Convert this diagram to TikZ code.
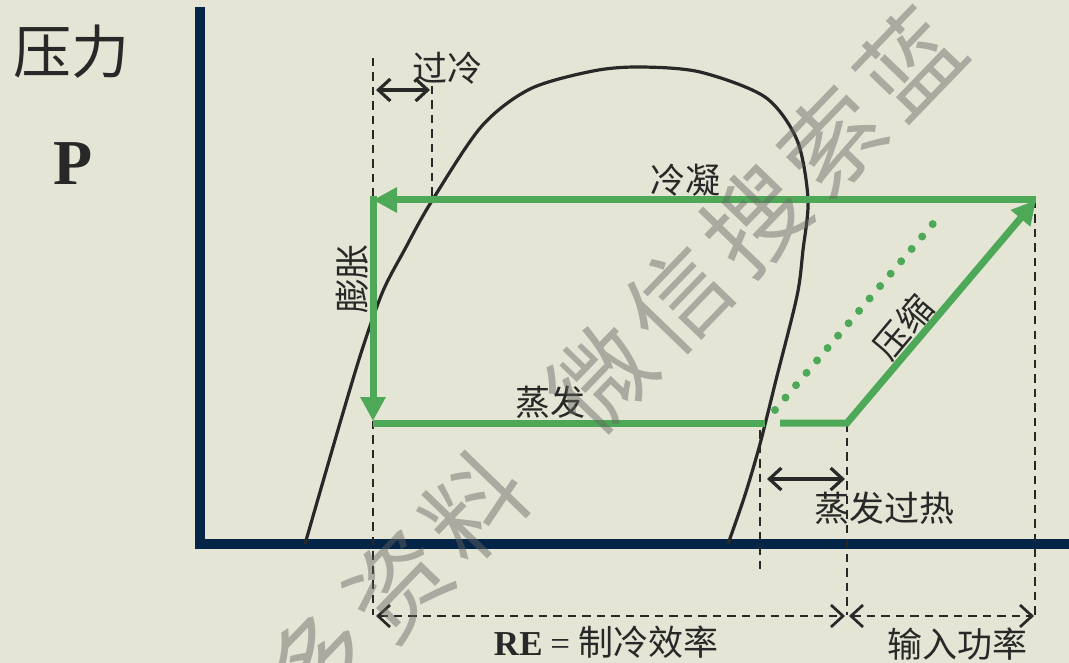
\documentclass[tikz,border=0pt]{standalone}
\usepackage{fontspec}
\setmainfont{Liberation Serif}
\newfontfamily\cjk{Noto Sans CJK SC}
\usetikzlibrary{arrows.meta}
\definecolor{bg}{RGB}{229,229,214}
\definecolor{navy}{RGB}{4,36,72}
\definecolor{grn}{RGB}{77,168,88}
\definecolor{ink}{RGB}{40,40,40}
\definecolor{wm}{RGB}{100,100,95}
\begin{document}
\begin{tikzpicture}[x=1pt,y=-1pt,
  axisline/.style={draw=navy,line width=10pt,line join=miter},
  cyc/.style={draw=grn,line width=7pt},
  cyctip/.style={-{Triangle[length=24pt,width=24pt]}},
  satline/.style={draw=ink,line width=3.2pt},
  guide/.style={draw=ink,line width=2.7pt,dash pattern=on 8.5pt off 6pt},
  barbs/.style={{Straight Barb[length=12pt,width=22pt]}-{Straight Barb[length=12pt,width=22pt]}},
  dimsolid/.style={draw=ink,line width=3.2pt,barbs},
  dimdash/.style={guide,barbs},
  lab/.style={text=ink,inner sep=0pt,font=\cjk\fontsize{35}{35}\selectfont},
  wmk/.style={text=wm,opacity=0.45,inner sep=0pt,rotate=46,font=\cjk\fontsize{100}{100}\selectfont}]
\useasboundingbox (0,0) rectangle (1069,663);
\fill[bg] (0,0) rectangle (1069,663);

% axes
\coordinate (ytop) at (200,7);
\coordinate (orig) at (200,544);
\coordinate (xend) at (1069,544);
\draw[axisline] (ytop) -- (orig) -- (xend);

\node[text=ink,inner sep=0pt,font=\cjk\fontsize{58}{58}\selectfont] (plab) at (71,52) {压力};
\node[text=ink,inner sep=0pt,font=\bfseries\fontsize{64}{64}\selectfont] (psym) at (73,164) {P};

% dashed guides
\coordinate (g1t) at (373,58);   \coordinate (g1b) at (373,615);
\coordinate (g2t) at (432,86);   \coordinate (g2b) at (432,200);
\coordinate (g3t) at (760,430);  \coordinate (g3b) at (760,573);
\coordinate (g4t) at (847,423);  \coordinate (g4b) at (847,615);
\coordinate (g5t) at (1035,200); \coordinate (g5b) at (1035,615);
\draw[guide] (g1t) -- (g1b);
\draw[guide] (g2t) -- (g2b);
\draw[guide] (g3t) -- (g3b);
\draw[guide] (g4t) -- (g4b);
\draw[guide] (g5t) -- (g5b);

% saturation dome
\draw[satline] plot[smooth,tension=0.5] coordinates {
 (305,544) (340,423) (362,350) (383,291) (405,249) (430,204) (481,127) (530,89)
 (593,71) (640,67) (700,72) (765,97) (797,140) (808,199) (803,250)
 (797,296) (776,380) (760,444) (745,495) (728,544)};

% refrigeration cycle
\coordinate (A) at (373,200);
\coordinate (B) at (373,421);
\coordinate (B0) at (373,423);
\coordinate (C) at (1036,200);
\coordinate (D) at (847,423);
\coordinate (E) at (765,423);
\coordinate (F) at (780,423);
\coordinate (S1) at (775,410);
\coordinate (S2) at (943,212);
\draw[cyc,cyctip] (C) -- (A);
\draw[cyc,cyctip,line cap=rect] (A) -- (B);
\draw[cyc] (B0) -- (E);
\draw[cyc,cyctip,line join=miter] (F) -- (D) -- (C);
\draw[draw=grn,line width=8pt,line cap=round,dash pattern=on 0pt off 16.25pt] (S1) -- (S2);

% dimension arrows
\coordinate (sc1) at (376,90);  \coordinate (sc2) at (430,90);
\coordinate (sh1) at (767,479); \coordinate (sh2) at (845,479);
\coordinate (re1) at (376,616); \coordinate (re2) at (845,616);
\coordinate (in1) at (849,616); \coordinate (in2) at (1034,616);
\draw[dimsolid] (sc1) -- (sc2);
\draw[dimsolid] (sh1) -- (sh2);
\draw[dimdash] (re1) -- (re2);
\draw[dimdash] (in1) -- (in2);

% labels
\node[lab] (lsc) at (447,68) {过冷};
\node[lab] (lcond) at (685,180) {冷凝};
\node[lab] (levap) at (550,402) {蒸发};
\node[lab,rotate=90] (lexp) at (352,279) {膨胀};
\node[lab,rotate=50] (lcomp) at (903,327) {压缩};
\node[lab] (lsh) at (884,508) {蒸发过热};
\node[lab] (lin) at (957,644) {输入功率};
\node[lab] (lre) at (606,642) {{\rmfamily\bfseries RE} {\rmfamily =} 制冷效率};

% watermark
\node[wmk] (w0) at (318,662) {多};
\node[wmk] (w1) at (398,585) {资};
\node[wmk] (w2) at (475,506) {料};
\node[wmk] (w3) at (601,378) {微};
\node[wmk] (w4) at (678,299) {信};
\node[wmk] (w5) at (755,220) {搜};
\node[wmk] (w6) at (832,141) {索};
\node[wmk] (w7) at (909,62) {蓝};
\end{tikzpicture}
\end{document}
